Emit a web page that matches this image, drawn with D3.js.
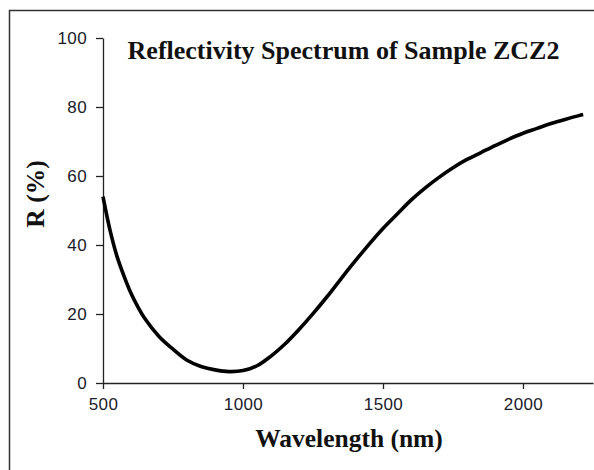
<!DOCTYPE html>
<html>
<head>
<meta charset="utf-8">
<script src="https://cdn.jsdelivr.net/npm/d3@7"></script>
<style>
  html, body { margin: 0; padding: 0; background: #fff; }
  svg { display: block; }
</style>
</head>
<body>
<div class="canvas"></div>
<script>
// values
const wavelength = [500, 525, 550, 575, 600, 625, 650, 700, 750, 800, 850, 900, 950,
  1000, 1050, 1100, 1150, 1200, 1250, 1300, 1350, 1400, 1450, 1500, 1550,
  1600, 1650, 1700, 1750, 1800, 1850, 1900, 1950, 2000, 2050, 2100, 2150,
  2200, 2215]
const reflectivity = [54, 44.3, 36.7, 31.0, 26.0, 22.0, 18.6, 13.5, 9.8, 6.6, 4.8, 3.8, 3.3,
  3.6, 5.0, 7.8, 11.3, 15.5, 20.1, 25.0, 30.2, 35.3, 40.2, 44.8, 48.9,
  53.0, 56.5, 59.6, 62.4, 64.8, 66.8, 68.8, 70.7, 72.4, 73.8, 75.2, 76.4,
  77.5, 77.8]
const xTicks = [500, 1000, 1500, 2000]
const yTicks = [0, 20, 40, 60, 80, 100]

const title = 'Reflectivity Spectrum of Sample ZCZ2'
const xLabel = 'Wavelength (nm)'
const yLabel = 'R (%)'

const width = 594
const height = 470
const margin = {top: 38, bottom: 87, left: 103, right: 1}

const svg = d3.select('.canvas')
  .append('svg')
  .attr('width', width)
  .attr('height', height)

// outer frame, cropped at right and bottom like the picture
svg.append('rect')
  .attr('x', 9.5)
  .attr('y', 10.5)
  .attr('width', width + 20)
  .attr('height', height + 20)
  .attr('fill', 'none')
  .attr('stroke', '#333')
  .attr('stroke-width', 1.5)

const x = d3.scaleLinear()
  .domain([500, 2250])
  .range([margin.left, width - margin.right])
const y = d3.scaleLinear()
  .domain([0, 100])
  .range([height - margin.bottom, margin.top])

const xAxis = svg.append('g')
  .attr('transform', `translate(0, ${y(0)})`)
  .call(d3.axisBottom(x)
    .tickValues(xTicks)
    .tickFormat(d3.format('d'))
    .tickSize(6)
    .tickSizeOuter(0)
    .tickPadding(9))
const yAxis = svg.append('g')
  .attr('transform', `translate(${x(500)}, 0)`)
  .call(d3.axisLeft(y)
    .tickValues(yTicks)
    .tickFormat(d3.format('d'))
    .tickSize(7)
    .tickSizeOuter(0)
    .tickPadding(9))

;[xAxis, yAxis].forEach(axis => {
  axis.select('.domain').attr('stroke', '#222').attr('stroke-width', 1.3)
  axis.selectAll('.tick line').attr('stroke', '#222').attr('stroke-width', 1.3)
  axis.selectAll('.tick text')
    .attr('fill', '#1a1a2a')
    .attr('font-family', 'Liberation Sans, Arial, sans-serif')
    .attr('font-size', 17)
    .attr('letter-spacing', 0.4)
})

const points = wavelength.map((w, i) => ({w, r: reflectivity[i]}))
const line = d3.line()
  .x(d => x(d.w))
  .y(d => y(d.r))
  .curve(d3.curveCatmullRom)

svg.append('path')
  .datum(points)
  .attr('d', line)
  .attr('fill', 'none')
  .attr('stroke', '#000')
  .attr('stroke-width', 3.6)

const serif = 'Liberation Serif, Times New Roman, serif'

svg.append('text')
  .attr('x', 343.5)
  .attr('y', 59)
  .attr('text-anchor', 'middle')
  .attr('font-family', serif)
  .attr('font-weight', 'bold')
  .attr('font-size', 26)
  .attr('fill', '#111')
  .text(title)

svg.append('text')
  .attr('x', 349)
  .attr('y', 447)
  .attr('text-anchor', 'middle')
  .attr('font-family', serif)
  .attr('font-weight', 'bold')
  .attr('font-size', 25.5)
  .attr('fill', '#111')
  .text(xLabel)

svg.append('text')
  .attr('transform', 'translate(44, 194) rotate(-90)')
  .attr('text-anchor', 'middle')
  .attr('font-family', serif)
  .attr('font-weight', 'bold')
  .attr('font-size', 25.5)
  .attr('fill', '#111')
  .text(yLabel)
</script>
</body>
</html>
